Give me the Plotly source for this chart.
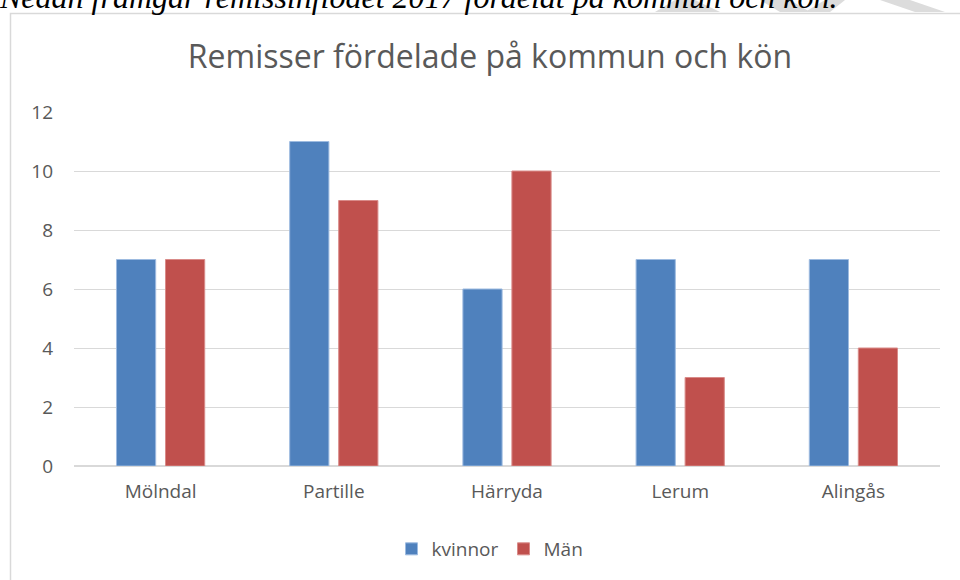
import plotly.graph_objects as go

categories = ["Mölndal", "Partille", "Härryda", "Lerum", "Alingås"]
kvinnor = [7, 11, 6, 7, 7]
man = [7, 9, 10, 3, 4]
series_names = ["kvinnor", "Män"]
title_text = "Remisser fördelade på kommun och kön"
intro_text = "Nedan framgår remissinflödet 2017 fördelat på kommun och kön."

W, H = 960, 580
L, R, T, B = 74, 20, 112, 114
pw = W - L - R
ph = H - T - B

def px2x(px):
    return (px - L) / pw

def py2y(py):
    return (H - B - py) / ph

fig = go.Figure()
fig.add_trace(go.Bar(x=categories, y=kvinnor, name=series_names[0],
                     marker=dict(color="#4f81bd", line=dict(color="#9dbbe0", width=1))))
fig.add_trace(go.Bar(x=categories, y=man, name=series_names[1],
                     marker=dict(color="#c0504d", line=dict(color="#d98b89", width=1))))

shapes = []
# watermark bands (behind the intro text)
bands = [
    [(655, 12), (675, 0), (695, 0), (720, 12)],
    [(760, 0), (790, 0), (810, 12), (780, 12)],
    [(805, 12), (825, 0), (845, 0), (830, 12)],
    [(880, 0), (910, 0), (945, 12), (915, 12)],
]
for pts in bands:
    path = "M " + " L ".join(f"{px2x(a)},{py2y(b)}" for a, b in pts) + " Z"
    shapes.append(dict(type="path", xref="paper", yref="paper", path=path,
                       fillcolor="#dcdcdc", line=dict(width=0), layer="below"))
# chart frame
shapes.append(dict(type="rect", xref="paper", yref="paper",
                   x0=px2x(10.5), x1=px2x(980), y0=py2y(13.5), y1=py2y(600),
                   line=dict(color="#d9d9d9", width=1.5), fillcolor="rgba(0,0,0,0)", layer="below"))

fig.update_layout(
    width=W, height=H,
    margin=dict(l=L, r=R, t=T, b=B),
    paper_bgcolor="white", plot_bgcolor="white",
    barmode="group", bargap=0.434, bargroupgap=0.2,
    font=dict(family="Open Sans", color="#595959"),
    title=dict(text=title_text, x=490 / W, xanchor="center", y=1 - 57 / H, yanchor="middle",
               font=dict(family="Open Sans", size=32, color="#595959")),
    xaxis=dict(showgrid=False, showline=False, ticks="", tickfont=dict(size=19, color="#595959"),
               ticklabelstandoff=12),
    yaxis=dict(range=[0, 12], dtick=2, showgrid=True, gridcolor="#d9d9d9", gridwidth=1,
               zeroline=True, zerolinecolor="#d9d9d9", zerolinewidth=1.5,
               showline=False, ticks="", tickfont=dict(size=19, color="#595959"),
               ticklabelstandoff=20),
    legend=dict(orientation="h", x=px2x(490), xanchor="center", y=py2y(549), yanchor="middle",
                font=dict(size=19, color="#595959"), itemwidth=30, tracegroupgap=0,
                bgcolor="rgba(0,0,0,0)"),
    shapes=shapes,
    annotations=[dict(text="<i>" + intro_text + "</i>", xref="paper", yref="paper",
                      x=px2x(-3), y=py2y(17), xanchor="left", yanchor="bottom", showarrow=False,
                      font=dict(family="Liberation Serif", size=32, color="black"))],
)

fig.write_html("out.html", config={"displayModeBar": False},
               post_script="document.body.style.margin='0';document.body.style.overflow='hidden';")
